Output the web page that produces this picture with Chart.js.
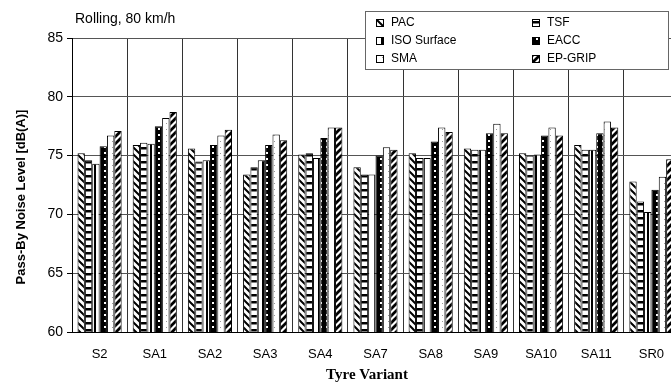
<!DOCTYPE html>
<html>
<head>
<meta charset="utf-8">
<script src="https://cdn.jsdelivr.net/npm/chart.js@4.4.0/dist/chart.umd.min.js"></script>
<style>
  html, body { margin: 0; padding: 0; background: #fff; overflow: hidden; }
  #wrap { width: 680px; height: 383px; }
</style>
</head>
<body>
<div id="wrap"><canvas id="chart" width="680" height="383"></canvas></div>
<script>
// tyre variants on the x axis
const categories = ['S2', 'SA1', 'SA2', 'SA3', 'SA4', 'SA7', 'SA8', 'SA9', 'SA10', 'SA11', 'SR0'];

// pass-by noise level [dB(A)] per road surface
const pac     = [75.2, 75.9, 75.6, 73.4, 75.1, 74.0, 75.2, 75.6, 75.2, 75.9, 72.8];
const tsf     = [74.6, 76.1, 74.5, 74.0, 75.2, 73.4, 74.8, 75.5, 75.0, 75.5, 71.1];
const isoSurf = [74.3, 76.0, 74.6, 74.6, 74.8, 73.4, 74.8, 75.5, 75.1, 75.5, 70.2];
const eacc    = [75.8, 77.5, 75.9, 75.9, 76.5, 75.0, 76.2, 76.9, 76.7, 76.9, 72.1];
const sma     = [76.7, 78.2, 76.7, 76.8, 77.4, 75.7, 77.4, 77.7, 77.4, 77.9, 73.2];
const epGrip  = [77.1, 78.7, 77.2, 76.3, 77.4, 75.5, 77.0, 76.9, 76.7, 77.4, 74.7];

const yTicks = [60, 65, 70, 75, 80, 85];

const SANS = "'Liberation Sans', Arial, sans-serif";

// small tiles used as bar fills
function makePattern(w, h, draw) {
  const c = document.createElement('canvas');
  c.width = w; c.height = h;
  const g = c.getContext('2d');
  draw(g, w, h);
  return g.createPattern(c, 'repeat');
}

const patBack = makePattern(7, 7, (g, w, h) => {
  g.fillStyle = '#fff'; g.fillRect(0, 0, w, h);
  g.strokeStyle = '#000'; g.lineWidth = 2;
  g.beginPath();
  g.moveTo(-1, -1); g.lineTo(w + 1, h + 1);
  g.moveTo(-1, h - 1); g.lineTo(1, h + 1);
  g.moveTo(w - 1, -1); g.lineTo(w + 1, 1);
  g.stroke();
});
const patHoriz = makePattern(7, 7, (g, w, h) => {
  g.fillStyle = '#fff'; g.fillRect(0, 0, w, h);
  g.fillStyle = '#000'; g.fillRect(0, 0, w, 2.5);
});
const patVert = makePattern(7, 7, (g, w, h) => {
  g.fillStyle = '#fff'; g.fillRect(0, 0, w, h);
  g.fillStyle = '#000'; g.fillRect(3, 0, 2, h);
});
const patDots = makePattern(6, 6, (g, w, h) => {
  g.fillStyle = '#000'; g.fillRect(0, 0, w, h);
  g.fillStyle = '#fff'; g.fillRect(2, 2, 2, 2);
});
const patLight = makePattern(6, 6, (g, w, h) => {
  g.fillStyle = '#fff'; g.fillRect(0, 0, w, h);
  g.fillStyle = '#999'; g.fillRect(4, 3, 1, 1);
});
const patFwd = makePattern(7, 7, (g, w, h) => {
  g.fillStyle = '#fff'; g.fillRect(0, 0, w, h);
  g.strokeStyle = '#000'; g.lineWidth = 2.8;
  g.beginPath();
  g.moveTo(-1, h + 1); g.lineTo(w + 1, -1);
  g.moveTo(-1, 1); g.lineTo(1, -1);
  g.moveTo(w - 1, h + 1); g.lineTo(w + 1, h - 1);
  g.stroke();
});

function series(label, data, fill) {
  return { label: label, data: data, backgroundColor: fill, borderColor: '#000', borderWidth: 1 };
}

// title, axis titles and the boxed legend inside the plot
const decorations = {
  id: 'decorations',
  afterDraw(chart) {
    const ctx = chart.ctx;
    ctx.save();
    ctx.fillStyle = '#000';
    ctx.textBaseline = 'middle';
    ctx.font = '14px ' + SANS;
    ctx.fillText('Rolling, 80 km/h', 75, 19);

    ctx.font = 'bold 13px ' + SANS;
    ctx.textAlign = 'center';
    ctx.save();
    ctx.translate(21, 197);
    ctx.rotate(-Math.PI / 2);
    ctx.fillText('Pass-By Noise Level [dB(A)]', 0, 0);
    ctx.restore();

    ctx.font = "bold 15px 'Liberation Serif', 'Times New Roman', serif";
    ctx.fillText('Tyre Variant', 367, 375);

    // legend
    ctx.fillStyle = '#fff';
    ctx.fillRect(365, 11, 303, 58);
    ctx.strokeStyle = '#666';
    ctx.lineWidth = 1;
    ctx.strokeRect(365.5, 11.5, 303, 58);
    ctx.textAlign = 'left';
    ctx.font = '12px ' + SANS;
    chart.data.datasets.forEach((ds, i) => {
      const col = i % 2, row = Math.floor(i / 2);
      const x = 376 + col * 156, y = 23 + row * 18;
      ctx.fillStyle = ds.backgroundColor;
      ctx.fillRect(x, y - 4, 8, 8);
      ctx.strokeStyle = '#000';
      ctx.strokeRect(x + 0.5, y - 3.5, 7, 7);
      ctx.fillStyle = '#000';
      ctx.fillText(ds.label, x + 15, y);
    });
    ctx.restore();
  }
};

new Chart(document.getElementById('chart'), {
  type: 'bar',
  data: {
    labels: categories,
    datasets: [
      series('PAC', pac, patBack),
      series('TSF', tsf, patHoriz),
      series('ISO Surface', isoSurf, patVert),
      series('EACC', eacc, patDots),
      series('SMA', sma, patLight),
      series('EP-GRIP', epGrip, patFwd)
    ]
  },
  options: {
    responsive: false,
    animation: false,
    layout: { padding: { top: 38, right: 1, left: 0, bottom: 0 } },
    datasets: { bar: { categoryPercentage: 0.8, barPercentage: 1.0 } },
    plugins: {
      legend: { display: false },
      tooltip: { enabled: false }
    },
    scales: {
      x: {
        offset: true,
        grid: { offset: true, color: '#333', lineWidth: 1, drawTicks: false },
        border: { color: '#000' },
        ticks: { color: '#000', font: { family: SANS, size: 13 }, padding: 15, maxRotation: 0, autoSkip: false },
        afterFit(scale) { scale.height = 51; }
      },
      y: {
        min: 60,
        max: 85,
        afterBuildTicks(scale) { scale.ticks = yTicks.map(v => ({ value: v })); },
        grid: { color: '#555', lineWidth: 1, tickLength: 5, tickColor: '#000' },
        border: { color: '#000' },
        ticks: { color: '#000', font: { family: SANS, size: 14 }, padding: 4 },
        afterFit(scale) { scale.width = 72; }
      }
    }
  },
  plugins: [decorations]
});
</script>
</body>
</html>
